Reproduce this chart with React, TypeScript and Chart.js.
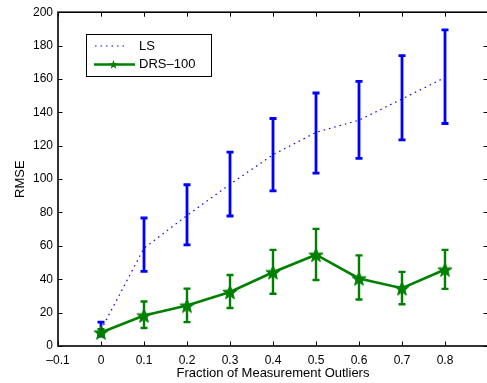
import React, { useEffect, useRef } from "react";
import { Chart, registerables } from "chart.js";

Chart.register(...registerables);

const outlierFractions = [0, 0.1, 0.2, 0.3, 0.4, 0.5, 0.6, 0.7, 0.8];

const lsMean = [9.7, 58.6, 78.2, 96.9, 114.6, 128, 135.3, 148, 160.9];
const lsHigh = [14.3, 76.7, 96.6, 116.2, 136.3, 151.6, 158.5, 174, 189.4];
const lsLow = [6, 44.7, 60.6, 77.9, 93, 103.6, 112.4, 123.5, 133.3];

const drsMean = [8.1, 18.3, 24.2, 32.4, 44.2, 54.7, 40.5, 34.6, 45.8];
const drsHigh = [10, 26.7, 34.4, 42.5, 57.6, 70.2, 54.3, 44.4, 57.6];
const drsLow = [7, 10.8, 14.3, 22.8, 31.3, 39.5, 27.9, 25, 34.2];

const seriesLabels = ["LS", "DRS\u2013100"];
const xTitle = "Fraction of Measurement Outliers";
const yTitle = "RMSE";

const FONT = "'Liberation Sans', Arial, Helvetica, sans-serif";
const BLUE = "#0000ff";
const GREEN = "#008000";

function starPath(ctx: CanvasRenderingContext2D, cx: number, cy: number, r: number) {
  const inner = r * 0.42;
  ctx.beginPath();
  for (let i = 0; i < 10; i++) {
    const rad = i % 2 === 0 ? r : inner;
    const a = -Math.PI / 2 + (i * Math.PI) / 5;
    const px = cx + rad * Math.cos(a);
    const py = cy + rad * Math.sin(a);
    if (i === 0) ctx.moveTo(px, py);
    else ctx.lineTo(px, py);
  }
  ctx.closePath();
}

function makeStar(size: number, color: string) {
  const c = document.createElement("canvas");
  c.width = size;
  c.height = size;
  const ctx = c.getContext("2d")!;
  starPath(ctx, size / 2, size / 2 + 0.7, size / 2 - 0.5);
  ctx.fillStyle = color;
  ctx.fill();
  ctx.strokeStyle = color;
  ctx.lineWidth = 1;
  ctx.stroke();
  return c;
}

const framePlugin = {
  id: "frame",
  beforeDatasetsDraw(chart: any) {
    const { ctx, chartArea } = chart;
    const { left, right, top, bottom } = chartArea;
    const xs = chart.scales.x;
    const ys = chart.scales.y;
    ctx.save();
    ctx.strokeStyle = "#000";
    ctx.lineWidth = 1;
    const tl = 4.5;
    ctx.beginPath();
    xs.ticks.forEach((t: any) => {
      const px = Math.round(xs.getPixelForValue(t.value)) + 0.5;
      ctx.moveTo(px, bottom);
      ctx.lineTo(px, bottom - tl);
      ctx.moveTo(px, top);
      ctx.lineTo(px, top + tl);
    });
    ys.ticks.forEach((t: any) => {
      const py = Math.round(ys.getPixelForValue(t.value)) + 0.5;
      ctx.moveTo(left, py);
      ctx.lineTo(left + tl, py);
      ctx.moveTo(right, py);
      ctx.lineTo(right - tl, py);
    });
    ctx.stroke();
    ctx.lineWidth = 1.6;
    ctx.strokeRect(left, top, right - left, bottom - top);
    ctx.restore();
  },
};

function drawBars(chart: any, lows: number[], highs: number[], color: string, width: number) {
  const { ctx } = chart;
  const xs = chart.scales.x;
  const ys = chart.scales.y;
  ctx.save();
  ctx.strokeStyle = color;
  ctx.lineWidth = width;
  ctx.lineCap = "butt";
  outlierFractions.forEach((x, i) => {
    const px = xs.getPixelForValue(x);
    const pl = ys.getPixelForValue(lows[i]);
    const ph = ys.getPixelForValue(highs[i]);
    ctx.beginPath();
    ctx.moveTo(px, pl);
    ctx.lineTo(px, ph);
    ctx.moveTo(px - 3.5, pl);
    ctx.lineTo(px + 3.5, pl);
    ctx.moveTo(px - 3.5, ph);
    ctx.lineTo(px + 3.5, ph);
    ctx.stroke();
  });
  ctx.restore();
}

const errorBarPlugin = {
  id: "errorBars",
  beforeDatasetsDraw(chart: any) {
    drawBars(chart, lsLow, lsHigh, BLUE, 2.8);
    drawBars(chart, drsLow, drsHigh, GREEN, 2.4);
  },
};

const legendPlugin = {
  id: "boxLegend",
  afterDraw(chart: any) {
    const { ctx } = chart;
    ctx.save();
    ctx.fillStyle = "#fff";
    ctx.fillRect(86, 34, 125, 42);
    ctx.strokeStyle = "#000";
    ctx.lineWidth = 1;
    ctx.strokeRect(86.5, 34.5, 125, 42);
    ctx.strokeStyle = BLUE;
    ctx.lineWidth = 1.2;
    ctx.setLineDash([1.5, 4]);
    ctx.beginPath();
    ctx.moveTo(95, 46);
    ctx.lineTo(128, 46);
    ctx.stroke();
    ctx.setLineDash([]);
    ctx.strokeStyle = GREEN;
    ctx.lineWidth = 2.5;
    ctx.beginPath();
    ctx.moveTo(94, 64.5);
    ctx.lineTo(135, 64.5);
    ctx.stroke();
    starPath(ctx, 113.5, 64.8, 4.8);
    ctx.fillStyle = GREEN;
    ctx.fill();
    ctx.fillStyle = "#000";
    ctx.font = `13px ${FONT}`;
    ctx.textBaseline = "middle";
    ctx.textAlign = "left";
    ctx.fillText(seriesLabels[0], 139, 46.5);
    ctx.fillText(seriesLabels[1], 139, 64.5);
    ctx.restore();
  },
};

export default function App() {
  const ref = useRef<HTMLCanvasElement>(null);
  useEffect(() => {
    const canvas = ref.current!;
    const starImg = makeStar(16, GREEN);
    const chart = new Chart(canvas, {
      type: "line",
      data: {
        datasets: [
          {
            label: seriesLabels[0],
            data: outlierFractions.map((x, i) => ({ x, y: lsMean[i] })),
            borderColor: BLUE,
            borderWidth: 1.2,
            borderDash: [1.5, 4],
            pointRadius: 0,
            fill: false,
            tension: 0,
          },
          {
            label: seriesLabels[1],
            data: outlierFractions.map((x, i) => ({ x, y: drsMean[i] })),
            borderColor: GREEN,
            backgroundColor: GREEN,
            borderWidth: 2.6,
            pointStyle: starImg as any,
            pointRadius: 8,
            fill: false,
            tension: 0,
          },
        ],
      },
      options: {
        responsive: false,
        animation: false,
        layout: { padding: { top: 7, right: 12, left: 0, bottom: 0 } },
        plugins: { legend: { display: false }, tooltip: { enabled: false } },
        scales: {
          x: {
            type: "linear",
            min: -0.1,
            max: 0.9,
            grid: { display: false, drawTicks: false },
            border: { display: false },
            ticks: {
              stepSize: 0.1,
              autoSkip: false,
              maxRotation: 0,
              padding: 7,
              color: "#000",
              font: { family: FONT, size: 12 },
              callback: (v: any) => {
                const n = Number(Number(v).toFixed(1));
                if (Math.abs(n - 0.9) < 1e-9) return "";
                return n.toString().replace("-", "\u2013");
              },
            },
            title: {
              display: true,
              text: xTitle,
              color: "#000",
              font: { family: FONT, size: 13 },
              padding: { top: 0, bottom: 2 },
            },
            afterFit: (s: any) => {
              s.height = 37;
            },
          },
          y: {
            type: "linear",
            min: 0,
            max: 200,
            grid: { display: false, drawTicks: false },
            border: { display: false },
            ticks: {
              stepSize: 20,
              padding: 5,
              color: "#000",
              font: { family: FONT, size: 12 },
            },
            title: {
              display: true,
              text: yTitle,
              color: "#000",
              font: { family: FONT, size: 13 },
              padding: { top: 13, bottom: 0 },
            },
            afterFit: (s: any) => {
              s.width = 58;
            },
          },
        },
      },
      plugins: [framePlugin, errorBarPlugin, legendPlugin],
    });
    return () => chart.destroy();
  }, []);
  return (
    <div
      style={{
        position: "fixed",
        left: 0,
        top: 0,
        width: 487,
        height: 383,
        overflow: "hidden",
        background: "#fff",
      }}
    >
      <canvas ref={ref} width={500} height={383} style={{ display: "block" }} />
    </div>
  );
}
